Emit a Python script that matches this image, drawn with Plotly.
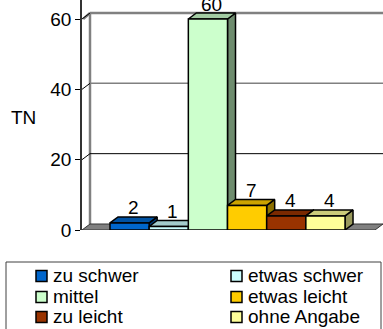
import plotly.graph_objects as go

# Ratings of difficulty (number of participants, "TN")
categories = ["zu schwer", "etwas schwer", "mittel", "etwas leicht", "zu leicht", "ohne Angabe"]
values = [2, 1, 60, 7, 4, 4]
y_ticks = [0, 20, 40, 60]

front_colors = ["#0066CC", "#CCFFFF", "#CCFFCC", "#FFCC00", "#993300", "#FFFF99"]
top_colors = ["#0052A3", "#A3CCCC", "#A3CCA3", "#CCA300", "#7A2900", "#CCCC7A"]
side_colors = ["#003D7A", "#7A9999", "#6E8C6E", "#8C7000", "#4D1A00", "#99995C"]

FONT = "Liberation Sans, Arial, sans-serif"
FS = 19

# canvas geometry (pixels)
W, H = 383, 329
ML, MT = 82, 0
PLOT_W, PLOT_H = W - ML, 230
BAR_PX = 39.17
PX_PER_UNIT = 211 / 60.0

x_lo = 0.5 - 28 / BAR_PX
x_hi = x_lo + PLOT_W / BAR_PX
y_hi = PLOT_H / PX_PER_UNIT

# 3D depth offsets in data units
DX = 8 / BAR_PX
DY = 6 / PX_PER_UNIT


def px_x(p):
    return (p - ML) / PLOT_W


def px_y(p):
    return (MT + PLOT_H - p) / PLOT_H


fig = go.Figure()

# floor
floor_right = 0.5 + 265 / BAR_PX
fig.add_trace(go.Scatter(
    x=[x_lo, floor_right, floor_right + DX, x_hi + 1, x_hi + 1, x_lo + DX, x_lo],
    y=[0, 0, DY, DY, DY, DY, 0],
    fill="toself", fillcolor="#808080", mode="lines",
    line=dict(color="#333333", width=1), hoverinfo="skip", showlegend=False,
))

# columns, drawn left to right so each one covers its neighbour's side face
for i, (name, v) in enumerate(zip(categories, values)):
    xl, xr = i + 0.5, i + 1.5
    line = dict(color="black", width=1.5)
    # side face
    fig.add_trace(go.Scatter(
        x=[xr, xr + DX, xr + DX, xr, xr], y=[0, DY, v + DY, v, 0],
        fill="toself", fillcolor=side_colors[i], mode="lines", line=line,
        hoverinfo="skip", showlegend=False,
    ))
    # top face
    fig.add_trace(go.Scatter(
        x=[xl, xr, xr + DX, xl + DX, xl], y=[v, v, v + DY, v + DY, v],
        fill="toself", fillcolor=top_colors[i], mode="lines", line=line,
        hoverinfo="skip", showlegend=False,
    ))
    # front face
    fig.add_trace(go.Scatter(
        x=[xl, xr, xr, xl, xl], y=[0, 0, v, v, 0],
        fill="toself", fillcolor=front_colors[i], mode="lines", line=line,
        name=name, hoverinfo="name+y", showlegend=False,
    ))
    fig.add_annotation(
        x=i + 1 + DX / 2, y=v + DY, text=str(v), showarrow=False,
        yanchor="middle", yshift=9, font=dict(family=FONT, size=FS, color="black"),
    )

shapes = []
# back wall left edge and top connector
shapes.append(dict(type="line", xref="x", yref="y", x0=x_lo + DX, y0=DY, x1=x_lo + DX, y1=60 + DY,
                   line=dict(color="#808080", width=2.5), layer="below"))
shapes.append(dict(type="line", xref="x", yref="y", x0=x_lo + 0.03, y0=60, x1=x_lo + DX, y1=60 + DY,
                   line=dict(color="#808080", width=2.5), layer="below"))
# gridlines on the back wall plus the diagonal tick connectors
for t in y_ticks[1:]:
    col, w = ("#808080", 2.5) if t == 60 else (("#808080", 1.5) if t == 40 else ("black", 1))
    shapes.append(dict(type="line", xref="x", yref="y", x0=x_lo + DX, y0=t + DY, x1=x_hi, y1=t + DY,
                       line=dict(color=col, width=w), layer="below"))
    shapes.append(dict(type="line", xref="x", yref="y", x0=x_lo, y0=t, x1=x_lo + DX, y1=t + DY,
                       line=dict(color="black", width=1), layer="below"))

# legend box
shapes.append(dict(type="rect", xref="paper", yref="paper",
                   x0=px_x(6), x1=px_x(381), y0=px_y(262), y1=px_y(345),
                   line=dict(color="#404040", width=1), fillcolor="white", layer="above"))

legend_cols = [36, 231]
legend_rows = [276, 297, 317]
for i, name in enumerate(categories):
    cx = legend_cols[i % 2]
    cy = legend_rows[i // 2]
    shapes.append(dict(type="rect", xref="paper", yref="paper",
                       x0=px_x(cx), x1=px_x(cx + 11), y0=px_y(cy - 5.5), y1=px_y(cy + 5.5),
                       fillcolor=front_colors[i], line=dict(color="black", width=1.5), layer="above"))
    fig.add_annotation(
        xref="paper", yref="paper", x=px_x(cx + 15), y=px_y(cy - 1), text=name,
        showarrow=False, xanchor="left", yanchor="middle",
        font=dict(family=FONT, size=FS, color="black"),
    )

# axis title
fig.add_annotation(
    xref="paper", yref="paper", x=px_x(23), y=px_y(118), text="TN", showarrow=False,
    xanchor="center", yanchor="middle", font=dict(family=FONT, size=FS, color="black"),
)

fig.update_layout(
    width=W, height=H,
    margin=dict(l=ML, r=0, t=MT, b=H - MT - PLOT_H, pad=0),
    paper_bgcolor="white", plot_bgcolor="white",
    showlegend=False,
    shapes=shapes,
    font=dict(family=FONT, size=FS, color="black"),
    xaxis=dict(range=[x_lo, x_hi], visible=False, fixedrange=True),
    yaxis=dict(
        range=[0, y_hi], tickvals=y_ticks, ticktext=[str(t) for t in y_ticks],
        showgrid=False, zeroline=False, showline=True, linecolor="#333333", linewidth=1.5,
        ticks="outside", ticklen=5, tickcolor="black", tickwidth=1,
        tickfont=dict(family=FONT, size=FS, color="black"), fixedrange=True,
    ),
)

fig.write_html("out.html")
